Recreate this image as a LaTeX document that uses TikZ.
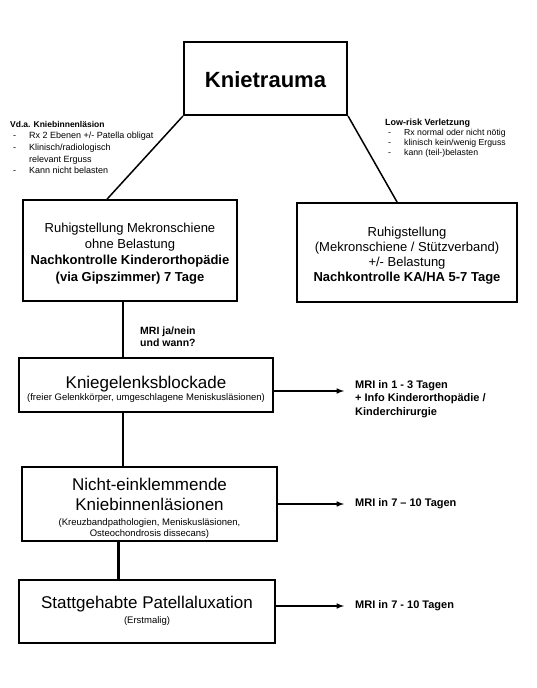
\documentclass[tikz,border=0pt]{standalone}
\usepackage{fontspec}
\setmainfont{Liberation Sans}
\usetikzlibrary{positioning}
\usetikzlibrary{arrows}
\newcommand{\strich}{\makebox[19pt][l]{\hspace{3pt}-}}
\newcommand{\oben}[2]{\raisebox{0pt}[#1]{#2}}

\tikzset{
	kasten/.style={draw, line width=1.8pt, align=center, inner sep=0pt},
	hinweis/.style={align=left, inner sep=0pt, anchor=north west},
	ziel/.style={align=left, inner sep=0pt, font=\fontsize{11}{13.5}\selectfont\bfseries},
	verbinder/.style={line width=1.5pt},
	pfeil/.style={line width=1.5pt, -latex, shorten >=11pt}
}

\begin{document}
\begin{tikzpicture}[x=1pt,y=-1pt]
	\useasboundingbox (0,0) rectangle (536,688);

	% Kopf
	\node[kasten, line width=2.2pt, minimum width=163pt, minimum height=73pt,
		font=\fontsize{22}{26}\selectfont\bfseries] (trauma) at (265.5,78.5) {\oben{19pt}{Knietrauma}};

	% Hinweise links und rechts
	\node[hinweis, font=\fontsize{9}{11.6}\selectfont] (hinwlinks) at (10,121)
		{\fontsize{8.5}{11.6}\selectfont\bfseries Vd.a. Kniebinnenläsion\\
		 \strich Rx 2 Ebenen +/- Patella obligat\\
		 \strich Klinisch/radiologisch\\
		 \hspace{19pt}relevant Erguss\\
		 \strich Kann nicht belasten};
	\node[hinweis, font=\fontsize{8.7}{10}\selectfont] (hinwrechts) at (385,118.7)
		{\fontsize{9}{10}\selectfont\bfseries Low-risk Verletzung\\
		 \strich Rx normal oder nicht nötig\\
		 \strich klinisch kein/wenig Erguss\\
		 \strich kann (teil-)belasten};

	% Ruhigstellung
	\node[kasten, minimum width=214pt, minimum height=101pt,
		font=\fontsize{13}{16.3}\selectfont] (links) at (130,250.5)
		{\oben{15.1pt}{Ruhigstellung Mekronschiene}\\
		 ohne Belastung\\
		 \bfseries Nachkontrolle Kinderorthopädie\\
		 \bfseries (via Gipszimmer) 7 Tage};
	\node[kasten, minimum width=220pt, minimum height=99pt,
		font=\fontsize{13}{15}\selectfont] (rechts) at (407,252.5)
		{\oben{16.1pt}{Ruhigstellung}\\
		 (Mekronschiene / Stützverband)\\
		 +/- Belastung\\
		 \bfseries Nachkontrolle KA/HA 5-7 Tage};

	\node[hinweis, font=\fontsize{10.5}{12}\selectfont\bfseries] (frage) at (140,326.2)
		{MRI ja/nein\\und wann?};

	% MRI-Indikationen
	\node[kasten, minimum width=254pt, minimum height=54pt,
		font=\fontsize{17}{20}\selectfont] (block) at (146,385)
		{\oben{20.5pt}{Kniegelenksblockade}\\[-7.7pt]
		 \fontsize{9.5}{11}\selectfont (freier Gelenkkörper, umgeschlagene Meniskusläsionen)};
	\node[kasten, minimum width=255pt, minimum height=74pt,
		font=\fontsize{17}{20}\selectfont] (nicht) at (149.5,504)
		{\oben{20.5pt}{Nicht-einklemmende}\\
		 Kniebinnenläsionen\\[-4.7pt]
		 \fontsize{9.5}{11}\selectfont (Kreuzbandpathologien, Meniskusläsionen,\\[-9pt]
		 \fontsize{9.5}{11}\selectfont Osteochondrosis dissecans)};
	\node[kasten, minimum width=256pt, minimum height=63pt,
		font=\fontsize{17}{20}\selectfont] (statt) at (147,611.5)
		{\oben{10.5pt}{Stattgehabte Patellaluxation}\\[-4.7pt]
		 \fontsize{9.5}{11}\selectfont (Erstmalig)};

	\node[ziel, anchor=north west] (mri1) at (355,380.1)
		{MRI in 1 - 3 Tagen\\+ Info Kinderorthopädie /\\Kinderchirurgie};
	\node[ziel, anchor=west] (mri2) at (355,504) {MRI in 7 -- 10 Tagen};
	\node[ziel, anchor=west] (mri3) at (355,606) {MRI in 7 - 10 Tagen};

	% Verbindungen
	\draw[verbinder] (trauma.south west) -- ([xshift=85pt]links.north west);
	\draw[verbinder] (trauma.south east) -- ([xshift=101pt]rechts.north west);

	\coordinate (achse) at (123,0);
	\coordinate (achse2) at (118,0);
	\draw[verbinder] (links.south -| achse) -- (block.north -| achse);
	\draw[verbinder] (block.south -| achse) -- (nicht.north -| achse);
	\draw[verbinder, line width=3pt] (nicht.south -| achse2) -- (statt.north -| achse2);

	\coordinate (hoehe1) at ([yshift=-6pt]block.east);
	\draw[pfeil] (hoehe1) -- (hoehe1 -| mri1.west);
	\draw[pfeil] (mri2 -| nicht.east) -- (mri2.west);
	\draw[pfeil] (mri3 -| statt.east) -- (mri3.west);
\end{tikzpicture}
\end{document}
